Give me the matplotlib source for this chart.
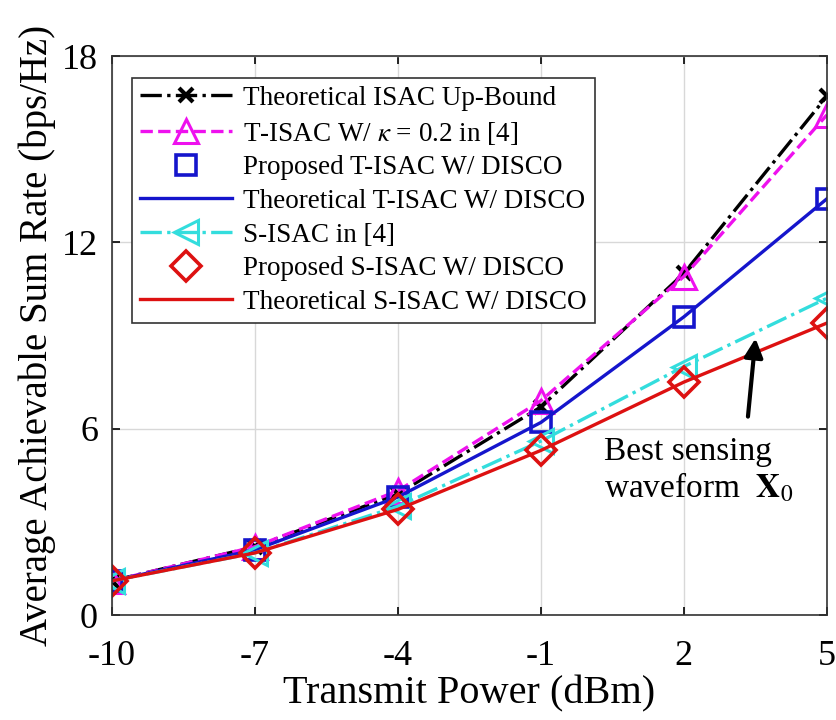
import matplotlib
matplotlib.use('Agg')
import matplotlib.pyplot as plt

plt.rcParams['font.family'] = ['Liberation Serif', 'DejaVu Serif']
plt.rcParams['mathtext.fontset'] = 'stix'

# transmit power (dBm)
power = [-10, -7, -4, -1, 2, 5]

# average achievable sum rate (bps/Hz)
upper_bound = [1.1, 2.2, 3.9, 6.7, 11.0, 16.7]
t_isac_ref = [1.1, 2.2, 4.0, 6.9, 10.9, 16.1]
t_isac_prop = [1.1, 2.1, 3.8, 6.2, 9.6, 13.4]
t_isac_theo = [1.1, 2.1, 3.8, 6.2, 9.6, 13.4]
s_isac_ref = [1.1, 2.0, 3.5, 5.6, 8.0, 10.2]
s_isac_prop = [1.1, 2.0, 3.4, 5.3, 7.5, 9.4]
s_isac_theo = [1.1, 2.0, 3.4, 5.3, 7.5, 9.4]

labels = ['Theoretical ISAC Up-Bound',
          r'T-ISAC W/ $\kappa$ = 0.2 in [4]',
          'Proposed T-ISAC W/ DISCO',
          'Theoretical T-ISAC W/ DISCO',
          'S-ISAC in [4]',
          'Proposed S-ISAC W/ DISCO',
          'Theoretical S-ISAC W/ DISCO']

fig = plt.figure(figsize=(8.37, 7.2), dpi=100)
ax = fig.add_axes([0.1338, 0.1458, 0.854, 0.7764])

lw = 2.4
ax.plot(power, upper_bound, '-.', color='black', marker='x', ms=10, mew=3, lw=lw, label=labels[0])
ax.plot(power, t_isac_ref, '--', color='#ee11ee', marker='^', ms=17, mfc='none', mew=2.2, lw=lw, label=labels[1])
ax.plot(power, t_isac_prop, ls='none', color='#1515cc', marker='s', ms=14, mfc='none', mew=2.6, label=labels[2])
ax.plot(power, t_isac_theo, '-', color='#1515cc', lw=lw, label=labels[3])
ax.plot(power, s_isac_ref, '-.', color='#33dddd', marker='<', ms=17, mfc='none', mew=2.2, lw=lw, label=labels[4])
ax.plot(power, s_isac_prop, ls='none', color='#dd1111', marker='D', ms=15, mfc='none', mew=2.6, label=labels[5])
ax.plot(power, s_isac_theo, '-', color='#dd1111', lw=lw, label=labels[6])

ax.set_xlim(-10, 5)
ax.set_ylim(0, 18)
ax.set_xticks(power)
ax.set_xticklabels(['-10', '-7', '-4', '-1', '2', '5'])
ax.set_yticks([0, 6, 12, 18])
ax.tick_params(direction='in', top=True, right=True, labelsize=26, length=6, width=1.2)
ax.tick_params(axis='x', pad=18)
ax.tick_params(axis='y', pad=10)
ax.grid(True, color='#d8d8d8', lw=1.0)
for s in ax.spines.values():
    s.set_color('#333333')
    s.set_linewidth(1.2)

ax.set_xlabel('Transmit Power (dBm)', fontsize=29, labelpad=2)
ax.set_ylabel('Average Achievable Sum Rate (bps/Hz)', fontsize=28, labelpad=4)

ax.annotate('', xy=(3.51, 9.0), xytext=(3.34, 6.3),
            arrowprops=dict(arrowstyle='-|>', color='black', lw=3, mutation_scale=28))
ax.text(0.32, 5.75, 'Best sensing\n' + r'waveform  $\mathbf{X}_0$', fontsize=24,
        ha='left', va='top', linespacing=1.15)

leg = ax.legend(loc='upper left', bbox_to_anchor=(0.028, 0.961), borderaxespad=0,
                fontsize=19.5, handlelength=3.4, labelspacing=0.32, handletextpad=0.4,
                fancybox=False, framealpha=1, edgecolor='#333333', borderpad=0.3)
leg.get_frame().set_linewidth(1.2)

fig.savefig('out.png', dpi=100)
